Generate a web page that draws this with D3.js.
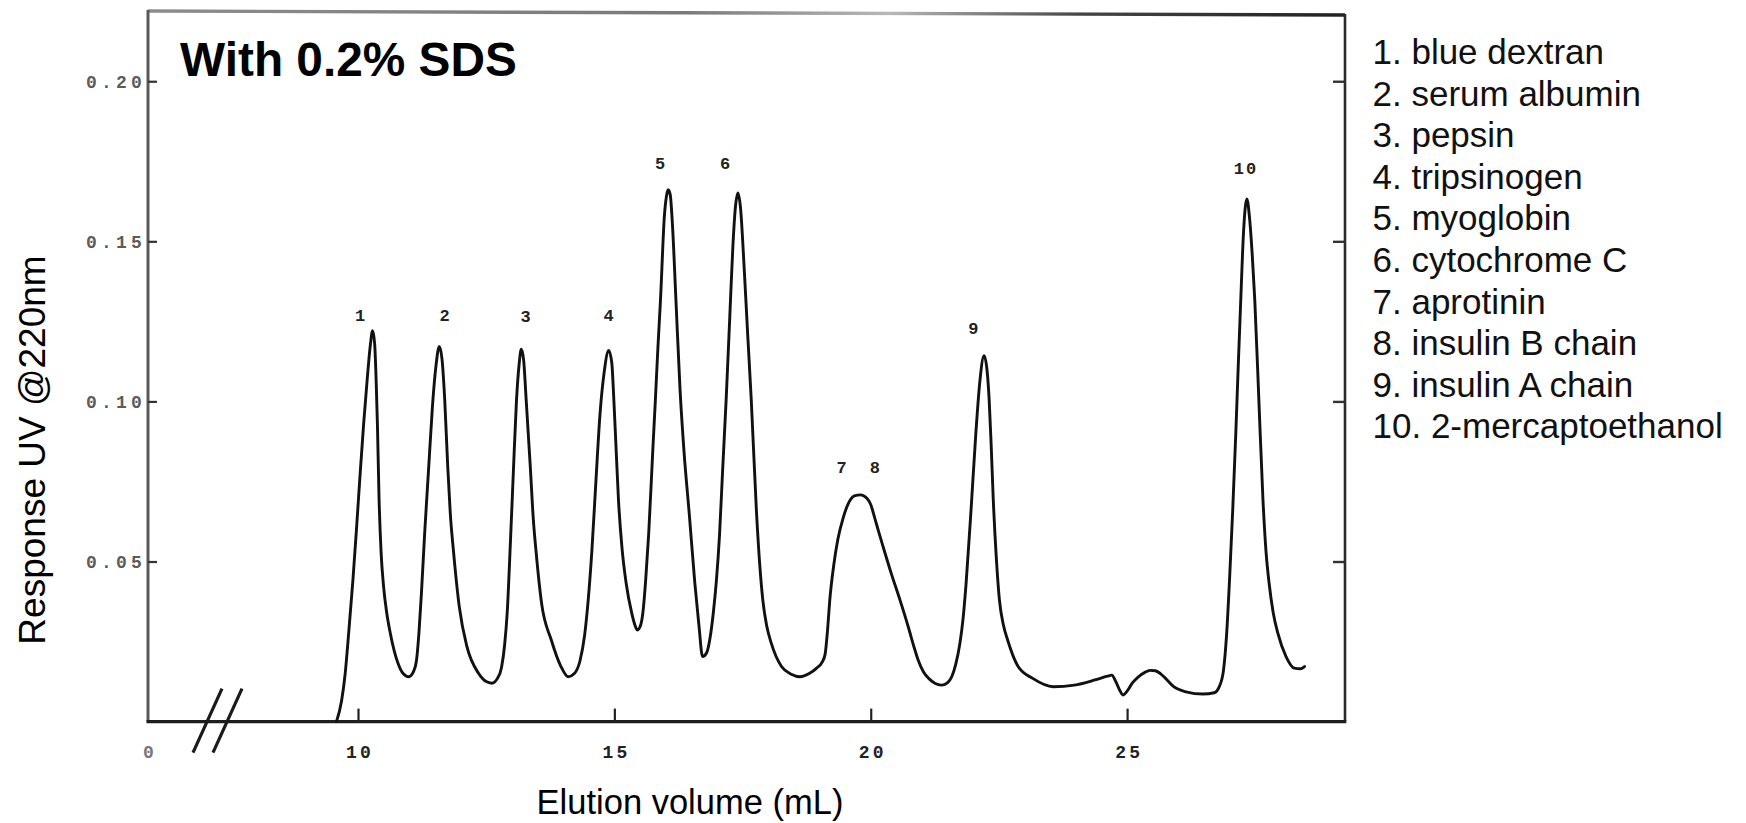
<!DOCTYPE html>
<html>
<head>
<meta charset="utf-8">
<script src="https://cdn.jsdelivr.net/npm/d3@7"></script>
<style>
  html, body { margin: 0; padding: 0; background: #fff; }
  svg { display: block; }
</style>
</head>
<body>
<svg id="chart" width="1746" height="823"></svg>
<script>
// Chromatogram trace: elution volume (mL) and UV response at 220 nm
const elutionVolume = [
  9.58, 9.68, 9.75, 9.82, 9.90, 9.97, 10.04, 10.11, 10.18, 10.24,
  10.285, 10.325, 10.355, 10.38, 10.41, 10.45, 10.50, 10.56, 10.63, 10.78,
  10.88, 10.99, 11.08, 11.14, 11.19, 11.24, 11.30, 11.38, 11.45, 11.52,
  11.586, 11.64, 11.69, 11.75, 11.80, 11.86, 11.975, 12.125, 12.35, 12.50,
  12.61, 12.72, 12.80, 12.86, 12.91, 12.97, 13.03, 13.09, 13.145, 13.184,
  13.23, 13.28, 13.36, 13.42, 13.47, 13.58, 13.77, 13.95, 14.10, 14.22,
  14.33, 14.42, 14.49, 14.56, 14.64, 14.72, 14.80, 14.89, 14.95, 14.99,
  15.04, 15.08, 15.15, 15.23, 15.34, 15.40, 15.45, 15.51, 15.56, 15.61,
  15.67, 15.75, 15.80, 15.85, 15.90, 15.975, 16.02, 16.05, 16.09, 16.13,
  16.20, 16.28, 16.36, 16.46, 16.57, 16.65, 16.72, 16.80, 16.87, 16.93,
  16.99, 17.05, 17.11, 17.18, 17.25, 17.31, 17.36, 17.41, 17.46, 17.53,
  17.60, 17.67, 17.77, 17.84, 17.895, 17.97, 18.06, 18.26, 18.45, 18.62,
  18.80, 18.945, 19.05, 19.11, 19.16, 19.20, 19.28, 19.36, 19.46, 19.56,
  19.68, 19.80, 19.92, 20.00, 20.08, 20.16, 20.24, 20.40, 20.57, 20.73,
  20.85, 20.93, 21.03, 21.13, 21.25, 21.38, 21.50, 21.58, 21.66, 21.74,
  21.80, 21.86, 21.96, 22.05, 22.13, 22.21, 22.27, 22.31, 22.35, 22.39,
  22.45, 22.51, 22.59, 22.67, 22.875, 23.16, 23.56, 23.97, 24.37, 24.62,
  24.70, 24.78, 24.85, 24.92, 25.00, 25.10, 25.22, 25.34, 25.45, 25.55,
  25.65, 25.75, 25.91, 26.15, 26.48, 26.70, 26.80, 26.88, 26.94, 27.00,
  27.06, 27.12, 27.17, 27.22, 27.27, 27.336, 27.39, 27.44, 27.49, 27.57,
  27.65, 27.71, 27.77, 27.85, 27.94, 28.10, 28.26, 28.38, 28.46
];
const absorbance = [
  0, 0.0065, 0.015, 0.028, 0.044, 0.060, 0.077, 0.093, 0.107, 0.1175,
  0.1221, 0.118, 0.106, 0.092, 0.070, 0.053, 0.042, 0.034, 0.0276, 0.0182,
  0.0150, 0.0140, 0.0155, 0.0190, 0.028, 0.041, 0.0588, 0.0797, 0.098, 0.111,
  0.1172, 0.113, 0.101, 0.0797, 0.065, 0.0536, 0.0359, 0.0234, 0.0151, 0.0125,
  0.0120, 0.0135, 0.0170, 0.0240, 0.0340, 0.055, 0.078, 0.100, 0.112, 0.1163,
  0.113, 0.1005, 0.0797, 0.063, 0.0536, 0.037, 0.0255, 0.0175, 0.014, 0.0150,
  0.0190, 0.027, 0.038, 0.053, 0.075, 0.096, 0.109, 0.1159, 0.112, 0.1005,
  0.083, 0.0693, 0.054, 0.0432, 0.0338, 0.0302, 0.0286, 0.0300, 0.0345, 0.044,
  0.0588, 0.0849, 0.1005, 0.117, 0.1318, 0.1578, 0.1645, 0.1661, 0.1645, 0.156,
  0.132, 0.104, 0.084, 0.065, 0.0432, 0.030, 0.0203, 0.0215, 0.0265, 0.034,
  0.044, 0.058, 0.078, 0.1005, 0.126, 0.148, 0.1605, 0.1651, 0.1605, 0.1422,
  0.121, 0.1005, 0.066, 0.048, 0.038, 0.030, 0.0245, 0.0172, 0.0148, 0.014,
  0.0150, 0.0167, 0.0185, 0.0210, 0.029, 0.0377, 0.049, 0.0570, 0.0635, 0.0680,
  0.0705, 0.0708, 0.0698, 0.0678, 0.0635, 0.0590, 0.0547, 0.0463, 0.038, 0.0297,
  0.0230, 0.0190, 0.0155, 0.0135, 0.0120, 0.0114, 0.0122, 0.0140, 0.018, 0.0245,
  0.032, 0.0432, 0.067, 0.090, 0.1065, 0.1143, 0.1095, 0.1005, 0.086, 0.0693,
  0.051, 0.038, 0.030, 0.0255, 0.0172, 0.0135, 0.0109, 0.0114, 0.013, 0.0142,
  0.0145, 0.0125, 0.0100, 0.0083, 0.0095, 0.0120, 0.0140, 0.0153, 0.0160, 0.0159,
  0.0150, 0.0135, 0.0109, 0.0093, 0.0086, 0.0090, 0.0110, 0.0160, 0.027, 0.045,
  0.066, 0.090, 0.112, 0.133, 0.1526, 0.1632, 0.157, 0.146, 0.1318, 0.1005,
  0.0693, 0.053, 0.0432, 0.034, 0.0276, 0.0203, 0.0167, 0.0165, 0.0172
];

// Axis ticks
const xTickValues = [0, 10, 15, 20, 25];
const xTickLabels = ["0", "10", "15", "20", "25"];
const yTickValues = [0.05, 0.10, 0.15, 0.20];
const yTickLabels = ["0.05", "0.10", "0.15", "0.20"];

// Peak numbers written above the trace (volume, response where each number sits)
const peakIds = ["1", "2", "3", "4", "5", "6", "7", "8", "9", "10"];
const peakLabelVolume = [10.04, 11.69, 13.27, 14.89, 15.89, 17.16, 19.43, 20.08, 22.00, 27.30];
const peakLabelResponse = [0.127, 0.127, 0.1267, 0.127, 0.1746, 0.1746, 0.0796, 0.0796, 0.123, 0.173];

// Standards in elution order
const compounds = [
  "blue dextran", "serum albumin", "pepsin", "tripsinogen", "myoglobin",
  "cytochrome C", "aprotinin", "insulin B chain", "insulin A chain", "2-mercaptoethanol"
];

const svg = d3.select("#chart");
svg.append("rect").attr("width", 1746).attr("height", 823).attr("fill", "#fff");

// Broken x axis: 0 sits at the left edge, the scale resumes just before 10 mL
const breakAt = 7.25;
const x = d3.scaleLinear().domain([0, breakAt, 29.25]).range([148, 217, 1345]);
const y = d3.scaleLinear().domain([0, 0.221]).range([721.6, 14]);

const left = x(0), right = x(29.25), bottom = y(0);

// Frame
const defs = svg.append("defs");
const grad = defs.append("linearGradient").attr("id", "topEdge")
  .attr("gradientUnits", "userSpaceOnUse").attr("x1", left).attr("x2", right).attr("y1", 0).attr("y2", 0);
[[0, "#8c8c8c"], [0.45, "#7a7a7a"], [0.62, "#b8b8b8"], [0.78, "#444"], [1, "#222"]].forEach(([o, c]) =>
  grad.append("stop").attr("offset", o).attr("stop-color", c));

svg.append("line").attr("x1", left).attr("y1", 11).attr("x2", right).attr("y2", 15)
  .attr("stroke", "url(#topEdge)").attr("stroke-width", 3.4);
svg.append("line").attr("x1", left).attr("y1", 10).attr("x2", left).attr("y2", bottom)
  .attr("stroke", "#5a5a5a").attr("stroke-width", 3);
svg.append("line").attr("x1", right).attr("y1", 14).attr("x2", right).attr("y2", bottom)
  .attr("stroke", "#2a2a2a").attr("stroke-width", 2.6);
svg.append("line").attr("x1", left - 1.5).attr("y1", bottom).attr("x2", right + 1.3).attr("y2", bottom)
  .attr("stroke", "#1e1e1e").attr("stroke-width", 3.2);

const tickFont = "'Liberation Mono', 'DejaVu Sans Mono', monospace";
const tickSpacing = 4.2;

// Left axis: inward ticks with typewriter labels
const yAxis = d3.axisLeft(y).tickValues(yTickValues)
  .tickFormat((d, i) => yTickLabels[i]).tickSizeInner(-9).tickSizeOuter(0).tickPadding(2);
const gy = svg.append("g").attr("transform", `translate(${left},0)`).call(yAxis);
gy.select(".domain").remove();
gy.selectAll(".tick line").attr("stroke", "#333").attr("stroke-width", 2.2);
gy.selectAll(".tick text").attr("font-family", tickFont).attr("font-weight", "bold")
  .attr("font-size", 18).attr("letter-spacing", tickSpacing).attr("fill", "#5c5c5c");

// Right axis: ticks only
const yAxisR = d3.axisRight(y).tickValues(yTickValues).tickFormat("").tickSizeInner(-12).tickSizeOuter(0);
const gyr = svg.append("g").attr("transform", `translate(${right},0)`).call(yAxisR);
gyr.select(".domain").remove();
gyr.selectAll(".tick line").attr("stroke", "#333").attr("stroke-width", 2.4);

// Bottom axis: inward ticks
const xAxis = d3.axisBottom(x).tickValues(xTickValues)
  .tickFormat((d, i) => xTickLabels[i]).tickSizeInner(-13).tickSizeOuter(0).tickPadding(24);
const gx = svg.append("g").attr("transform", `translate(0,${bottom})`).call(xAxis);
gx.select(".domain").remove();
gx.selectAll(".tick line").attr("stroke", "#222").attr("stroke-width", 2.2)
  .attr("display", d => d === 0 ? "none" : null);
gx.selectAll(".tick text").attr("font-family", tickFont).attr("font-weight", "bold")
  .attr("font-size", 18).attr("letter-spacing", 3.2).attr("dx", 1.6)
  .attr("fill", d => d === 0 ? "#777" : "#222");

// Axis break marks
const bx = x(breakAt);
[-10, 10].forEach(off => {
  svg.append("line")
    .attr("x1", bx + off - 14).attr("y1", bottom + 31)
    .attr("x2", bx + off + 15).attr("y2", bottom - 33)
    .attr("stroke", "#1a1a1a").attr("stroke-width", 3.2);
});

// Trace
const line = d3.line()
  .x((d, i) => x(elutionVolume[i]))
  .y((d, i) => y(absorbance[i]))
  .curve(d3.curveMonotoneX);
svg.append("path").datum(absorbance).attr("d", line)
  .attr("fill", "none").attr("stroke", "#111").attr("stroke-width", 2.9)
  .attr("stroke-linejoin", "round").attr("stroke-linecap", "round");

// Peak numbers
svg.append("g").selectAll("text").data(peakIds).join("text")
  .attr("x", (d, i) => x(peakLabelVolume[i]))
  .attr("y", (d, i) => y(peakLabelResponse[i]))
  .attr("dy", "0.35em").attr("dx", 1)
  .attr("text-anchor", "middle")
  .attr("font-family", tickFont).attr("font-weight", "bold").attr("font-size", 17)
  .attr("letter-spacing", 2).attr("fill", "#222")
  .text(d => d);

// Panel title
svg.append("text").attr("x", 180).attr("y", 76)
  .attr("font-family", "'Liberation Sans', Arial, sans-serif").attr("font-weight", "bold")
  .attr("font-size", 47.8).attr("fill", "#000")
  .text("With 0.2% SDS");

// Axis titles
svg.append("text")
  .attr("transform", `translate(45,450) rotate(-90)`)
  .attr("text-anchor", "middle")
  .attr("font-family", "'Liberation Sans', Arial, sans-serif").attr("font-size", 37).attr("fill", "#000")
  .text("Response UV @220nm");
svg.append("text").attr("x", 690).attr("y", 814)
  .attr("text-anchor", "middle")
  .attr("font-family", "'Liberation Sans', Arial, sans-serif").attr("font-size", 34.5).attr("fill", "#000")
  .text("Elution volume (mL)");

// Key to peak numbers
svg.append("g").selectAll("text").data(compounds).join("text")
  .attr("x", 1372.5)
  .attr("y", (d, i) => 64 + i * 41.6)
  .attr("font-family", "'Liberation Sans', Arial, sans-serif").attr("font-size", 35).attr("fill", "#111")
  .text((d, i) => `${i + 1}. ${d}`);
</script>
</body>
</html>
